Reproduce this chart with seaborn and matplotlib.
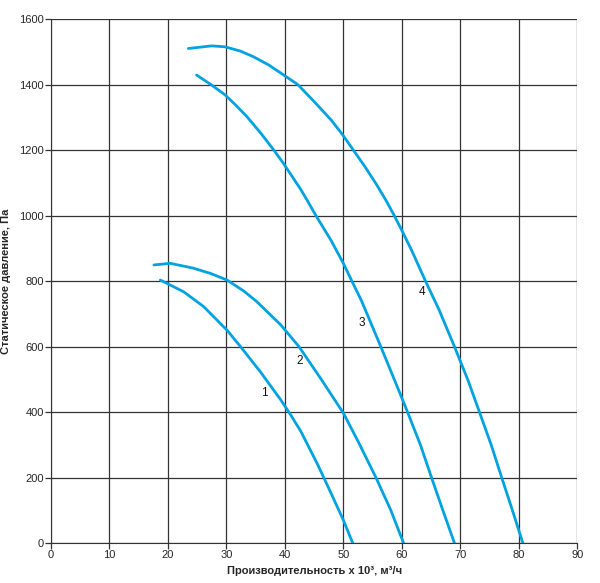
import pandas as pd
import matplotlib.pyplot as plt
import seaborn as sns

# fan curves
x1 = [18.7, 22.7, 26.1, 30.1, 32.4, 35.8, 39.3, 41.0, 42.7, 45.6, 47.9, 50.0, 51.6]
y1 = [803, 767, 722, 650, 600, 523, 437, 391, 342, 240, 152, 70, 0]

x2 = [17.6, 20.4, 24.4, 27.3, 30.1, 33.0, 35.2, 39.3, 42.4, 46.1, 50.0, 52.7, 55.6, 58.1, 60.3]
y2 = [849, 854, 839, 823, 803, 769, 737, 666, 600, 503, 397, 304, 199, 101, 0]

x3 = [24.9, 27.5, 29.8, 31.6, 33.5, 35.9, 38.1, 39.8, 42.7, 43.8, 45.3, 47.9, 50.0, 51.4,
      53.1, 56.4, 59.8, 61.0, 63.2, 65.1, 67.0, 69.0]
y3 = [1429, 1398, 1368, 1337, 1302, 1251, 1200, 1158, 1080, 1047, 1000, 924, 854, 802,
      740, 600, 452, 399, 299, 199, 101, 0]

x4 = [23.5, 27.5, 29.8, 32.4, 34.6, 37.3, 39.8, 42.2, 45.0, 47.9, 49.9, 51.7, 53.7, 55.7,
      57.4, 58.7, 60.0, 61.7, 64.1, 66.4, 69.0, 71.3, 73.3, 75.3, 77.1, 78.9, 80.7]
y4 = [1510, 1518, 1515, 1502, 1485, 1459, 1429, 1400, 1348, 1292, 1246, 1200, 1149, 1094,
      1043, 1000, 955, 893, 798, 711, 600, 498, 399, 299, 199, 101, 0]

curve_names = ["1", "2", "3", "4"]
label_x = [36.5, 42.5, 53.1, 63.4]
label_y = [459, 556, 673, 767]

frames = []
for name, xs, ys in zip(curve_names, [x1, x2, x3, x4], [y1, y2, y3, y4]):
    frames.append(pd.DataFrame({"q": xs, "p": ys, "curve": name}))
df = pd.concat(frames)

sns.set_style("white")
plt.rcParams["font.family"] = ["Liberation Sans", "DejaVu Sans"]

fig = plt.figure(figsize=(6.0, 5.83), dpi=100)
ax = fig.add_axes([0.085, 0.0686, 0.877, 0.8988])

sns.lineplot(data=df, x="q", y="p", units="curve", estimator=None, sort=False,
             color="#00a3e0", linewidth=2.0, ax=ax)
for line in ax.lines:
    line.set_solid_joinstyle("round")

for n, lx, ly in zip(curve_names, label_x, label_y):
    ax.text(lx, ly, n, fontsize=8.5, ha="center", va="center", color="#111")

ax.set_xlim(0, 90)
ax.set_ylim(0, 1600)
ax.set_xticks(range(0, 91, 10))
ax.set_yticks(range(0, 1601, 200))
ax.grid(True, color="#333333", linewidth=0.9)
ax.set_axisbelow(True)
for s in ax.spines.values():
    s.set_visible(False)
ax.spines["left"].set_visible(True)
ax.spines["bottom"].set_visible(True)
ax.spines["left"].set_color("#333333")
ax.spines["bottom"].set_color("#333333")
ax.tick_params(axis="both", direction="out", length=4, width=0.9, color="#333333",
               labelsize=8, pad=1, bottom=True, left=True)

ax.set_xlabel("Производительность х 10³, м³/ч", fontsize=8, fontweight="bold", labelpad=4)
ax.set_ylabel("Статическое давление, Па", fontsize=8, fontweight="bold", labelpad=6)

fig.savefig("out.png", dpi=100)
